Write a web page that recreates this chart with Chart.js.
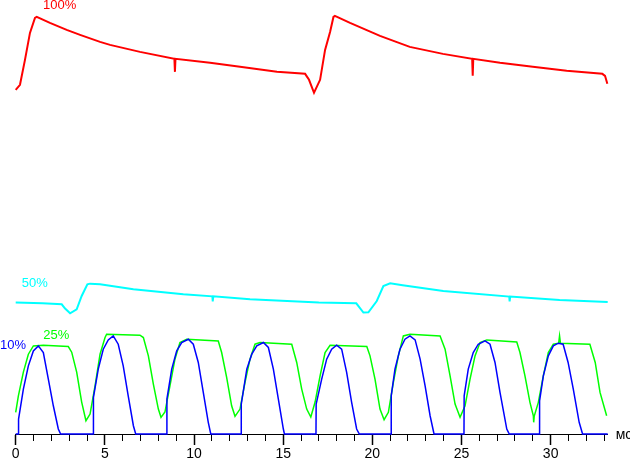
<!DOCTYPE html>
<html lang="ru">
<head>
<meta charset="UTF-8" />
<title>Osc</title>
<script src="https://cdn.jsdelivr.net/npm/chart.js@4.4.1/dist/chart.umd.min.js"></script>
<style>
  body { margin: 0; background: #fff; }
</style>
</head>
<body>
<canvas id="chart" width="630" height="461"></canvas>

<script>
// time in ms, level in screen units above the axis
const redTime = [0, 0.24, 0.52, 0.80, 1.08, 1.18, 1.92, 2.86, 3.61, 4.73, 5.29, 6.97, 8.90, 8.93, 8.96, 10.90, 12.58, 14.65, 16.23, 16.45, 16.73, 17.07, 17.35, 17.63, 17.82, 17.90, 18.75, 20.43, 22.10, 23.96, 25.60, 25.63, 25.66, 27.16, 29.00, 30.90, 32.90, 33.05, 33.18];
const redLevel = [345, 350, 375, 402, 417, 418, 412, 405, 400, 393, 390, 383, 376, 363, 376, 372, 368, 363, 361, 355, 342, 355, 385, 403, 418, 419, 412, 399, 388, 381, 376, 359, 376, 372, 368, 364, 361, 359, 351];

const cyanTime = [0, 1.5, 2.58, 2.77, 3.05, 3.42, 3.70, 4.02, 4.17, 4.73, 6.60, 9.40, 11.03, 11.05, 11.08, 13.14, 17.0, 19.1, 19.5, 19.78, 20.25, 20.62, 21.0, 21.7, 23.98, 27.68, 27.70, 27.73, 30.5, 33.2];
const cyanLevel = [131.7, 131, 130, 125.7, 121, 125, 138.3, 150, 150.7, 150, 145, 140, 138, 133, 138, 135, 131.7, 131, 121.7, 122, 133.3, 148.3, 151, 149, 143.3, 137.7, 133, 137.7, 134.3, 132.3];

const greenTime = [0, 0.15, 0.43, 0.71, 0.99, 1.55, 2.95, 3.14, 3.42, 3.70, 3.94, 4.17, 4.45, 4.73, 5.01, 5.10, 6.97, 7.16, 7.44, 7.72, 8.00, 8.15, 8.37, 8.65, 8.93, 9.21, 9.59, 11.36, 11.55, 11.83, 12.11, 12.30, 12.58, 12.86, 13.14, 13.42, 13.70, 15.48, 15.76, 16.04, 16.32, 16.55, 16.79, 17.07, 17.35, 17.63, 19.69, 19.87, 20.15, 20.43, 20.66, 20.90, 21.18, 21.46, 21.74, 22.11, 23.80, 24.08, 24.36, 24.64, 24.92, 25.20, 25.48, 25.76, 26.04, 26.42, 28.10, 28.28, 28.56, 28.84, 29.03, 29.05, 29.08, 29.31, 29.59, 29.87, 30.15, 30.45, 30.50, 30.55, 32.20, 32.50, 32.77, 33.14];
const greenLevel = [21.7, 38.3, 62, 80, 88.3, 89, 87.7, 82, 62, 32, 13.3, 20, 48.3, 80, 96.7, 100, 99, 96.7, 78.3, 50, 25, 16.7, 22, 48.3, 75, 91.7, 95, 93.3, 81.7, 56.7, 28.3, 17.7, 25, 51.7, 75, 90, 91.7, 90, 71.7, 45, 25, 17, 32, 58.3, 81.7, 89, 87.7, 78.3, 55, 25, 14.3, 21.7, 51.7, 78.3, 98.3, 100, 98.3, 85, 58.3, 30, 16.7, 28.3, 55, 78.3, 91.7, 94.3, 92.3, 81.7, 58.3, 31.7, 18.3, 11.7, 18, 31.7, 58.3, 81.7, 90, 91, 98.3, 91, 90, 71.7, 41.7, 18.3];

const blueTime = [0, 0.15, 0.16, 0.43, 0.71, 0.99, 1.27, 1.55, 1.83, 2.11, 2.39, 2.52, 4.35, 4.36, 4.63, 4.91, 5.19, 5.47, 5.75, 6.03, 6.31, 6.60, 6.73, 8.47, 8.48, 8.75, 9.03, 9.31, 9.68, 9.96, 10.24, 10.52, 10.80, 10.94, 12.64, 12.65, 12.96, 13.24, 13.52, 13.89, 14.17, 14.45, 14.73, 15.01, 15.07, 16.84, 16.85, 17.16, 17.44, 17.72, 18.00, 18.28, 18.56, 18.84, 19.12, 19.27, 21.05, 21.06, 21.27, 21.55, 21.83, 22.11, 22.40, 22.68, 22.96, 23.24, 23.46, 25.14, 25.15, 25.38, 25.66, 25.94, 26.32, 26.60, 26.88, 27.16, 27.54, 27.68, 29.37, 29.38, 29.59, 29.87, 30.15, 30.43, 30.70, 30.98, 31.27, 31.60, 31.79, 33.2];
const blueLevel = [0, 0, 15, 45, 68.3, 83.3, 88.3, 81.7, 55, 28.3, 5, 0, 0, 36.7, 65, 85, 94.3, 98.3, 90, 68.3, 38.3, 8.3, 0, 0, 35, 65, 83.3, 91.7, 95, 90, 71.7, 41.7, 11.7, 0, 0, 30, 65, 80, 88.3, 91.7, 86.7, 65, 35, 5, 0, 0, 30, 55, 75, 85, 89, 85, 61.7, 31.7, 5, 0, 0, 38.3, 65, 85, 95, 98.3, 94.3, 75, 48.3, 18.3, 0, 0, 38.3, 65, 81.7, 90, 93.3, 90, 71.7, 41.7, 5, 0, 0, 33.3, 58.3, 78.3, 88.3, 91, 90, 71.7, 45, 11.7, 0, 0];

const tickMs = [0, 1, 2, 3, 4, 5, 6, 7, 8, 9, 10, 11, 12, 13, 14, 15, 16, 17, 18, 19, 20, 21, 22, 23, 24, 25, 26, 27, 28, 29, 30, 31, 32, 33];
const tickLabels = [0, 5, 10, 15, 20, 25, 30];

function pts(ts, vs) {
  return ts.map((t, i) => ({ x: t, y: vs[i] }));
}

const notes = {
  id: 'notes',
  afterDatasetsDraw(chart) {
    const { ctx, scales: { x, y } } = chart;
    const items = [
      { text: '100%', t: 1.53, v: 430, color: '#ff0000' },
      { text: '50%', t: 0.34, v: 151, color: '#00ffff' },
      { text: '25%', t: 1.55, v: 99, color: '#00ff00' },
      { text: '10%', t: -0.88, v: 89, color: '#0000ff' }
    ];
    ctx.save();
    ctx.font = '13px Arial, "Liberation Sans"';
    ctx.textAlign = 'left';
    ctx.textBaseline = 'middle';
    items.forEach(it => {
      ctx.fillStyle = it.color;
      ctx.fillText(it.text, x.getPixelForValue(it.t), y.getPixelForValue(it.v));
    });
    ctx.fillStyle = '#000';
    ctx.font = '14px Arial, "Liberation Sans"';
    ctx.fillText('мс', x.right + 8, x.top + 1);
    ctx.restore();
  }
};

const ctx = document.getElementById('chart').getContext('2d');
const myChart = new Chart(ctx, {
  type: 'line',
  data: {
    datasets: [
      { label: '10%', data: pts(blueTime, blueLevel), borderColor: '#0000ff', borderWidth: 1.5 },
      { label: '25%', data: pts(greenTime, greenLevel), borderColor: '#00ff00', borderWidth: 1.5 },
      { label: '50%', data: pts(cyanTime, cyanLevel), borderColor: '#00ffff', borderWidth: 2 },
      { label: '100%', data: pts(redTime, redLevel), borderColor: '#ff0000', borderWidth: 2 }
    ]
  },
  options: {
    responsive: false,
    animation: false,
    events: [],
    layout: { padding: { left: 15.7, right: 22.3, top: 0, bottom: -2.8 } },
    elements: {
      point: { radius: 0 },
      line: { tension: 0, fill: false }
    },
    datasets: { line: { clip: false } },
    plugins: { legend: { display: false }, tooltip: { enabled: false } },
    scales: {
      x: {
        type: 'linear',
        min: 0,
        max: 33.2,
        afterBuildTicks: axis => { axis.ticks = tickMs.map(v => ({ value: v })); },
        border: { color: '#000', width: 1 },
        grid: {
          drawOnChartArea: false,
          drawTicks: true,
          tickLength: 11,
          tickColor: '#000',
          tickWidth: c => tickLabels.includes(c.tick.value) ? 1.5 : 1,
          tickBorderDash: c => tickLabels.includes(c.tick.value) ? [] : [6, 20]
        },
        ticks: {
          autoSkip: false,
          maxRotation: 0,
          padding: 1,
          color: '#000',
          font: { family: 'Arial, "Liberation Sans"', size: 14 },
          callback: v => tickLabels.includes(v) ? String(v) : ''
        }
      },
      y: { display: false, min: 0, max: 435 }
    }
  },
  plugins: [notes]
});
</script>
</body>
</html>
